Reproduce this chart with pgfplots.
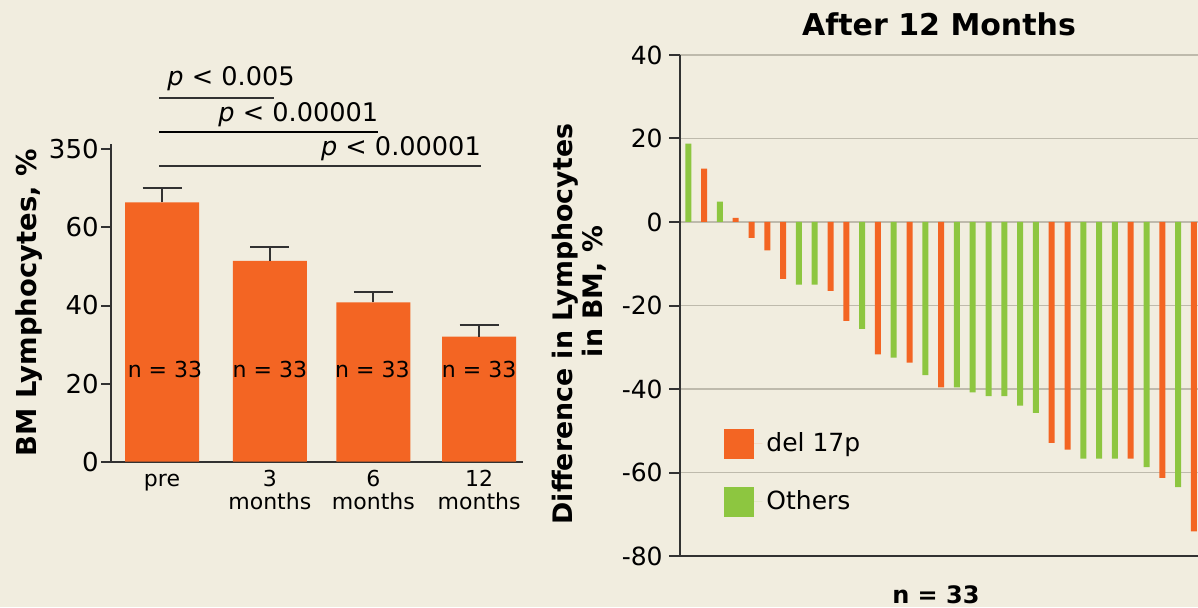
\documentclass[border=0pt]{standalone}
\usepackage{fontspec}
\setmainfont{DejaVu Sans}
\usepackage{pgfplots}
\pgfplotsset{compat=1.18}
\definecolor{bg}{RGB}{241,237,223}
\definecolor{cOrange}{RGB}{243,101,35}
\definecolor{cGreen}{RGB}{141,198,64}
\definecolor{gridgray}{RGB}{190,186,172}
\definecolor{axisgray}{RGB}{50,50,50}
\begin{document}
\begin{tikzpicture}
\fill[bg] (0,0) rectangle (599pt,303.5pt);
% ---------------- Left chart ----------------
\begin{axis}[
  at={(55.5pt,72.65pt)}, anchor=south west,
  scale only axis, width=206pt, height=158.85pt,
  xmin=-0.4825, xmax=3.415, ymin=0, ymax=81.36,
  axis lines=left, axis line style={-, line width=1pt, draw=axisgray},
  ytick={0,20,40,60,80}, yticklabels={0,20,40,60,350},
  xtick={0,1.02,2,3},
  xticklabels={\vphantom{3}pre, 3\\months, 6\\months, 12\\months},
  xtick style={draw=none},
  ytick style={line width=1pt, draw=axisgray},
  tick align=outside, major tick length=5pt,
  yticklabel style={font=\fontsize{13}{15}\selectfont, inner xsep=1pt},
  xticklabel style={font=\fontsize{11}{11.5}\selectfont, align=center, anchor=north, inner ysep=0.5pt, yshift=1.5pt},
  ylabel={BM Lymphocytes, \%},
  ylabel style={font=\fontsize{13.7}{16}\selectfont\bfseries, at={(axis description cs:-0.182,0.5)}, anchor=base},
  clip=false,
]
\addplot[ybar, bar width=37pt, fill=cOrange, draw=none,
  error bars/.cd, y dir=plus, y explicit,
  error bar style={line width=1pt, draw=axisgray},
  error mark options={rotate=90, line width=1pt, draw=axisgray, mark size=9.75pt}]
  coordinates {(0,66.4) +- (0,3.7) (1.02,51.4) +- (0,3.5) (2,40.8) +- (0,2.6) (3,32.0) +- (0,3.0)};
\node[anchor=base, font=\fontsize{11}{13}\selectfont, inner sep=0pt] at (axis cs:0.028,21.5) {n = 33};
\node[anchor=base, font=\fontsize{11}{13}\selectfont, inner sep=0pt] at (axis cs:1.02,21.5) {n = 33};
\node[anchor=base, font=\fontsize{11}{13}\selectfont, inner sep=0pt] at (axis cs:1.99,21.5) {n = 33};
\node[anchor=base, font=\fontsize{11}{13}\selectfont, inner sep=0pt] at (axis cs:3,21.5) {n = 33};
\draw[line width=1pt, axisgray] (axis cs:-0.028,93.2) -- (axis cs:1.06,93.2);
\draw[line width=1pt, black] (axis cs:-0.028,84.4) -- (axis cs:2.04,84.4);
\draw[line width=1pt, axisgray] (axis cs:-0.028,75.8) -- (axis cs:3.02,75.8);
\node[anchor=base west, font=\fontsize{12.8}{15}\selectfont, inner sep=0pt] at (axis cs:0.047,96.4) {\textit{p} < 0.005};
\node[anchor=base east, font=\fontsize{12.8}{15}\selectfont, inner sep=0pt] at (axis cs:2.05,87.1) {\textit{p} < 0.00001};
\node[anchor=base east, font=\fontsize{12.8}{15}\selectfont, inner sep=0pt] at (axis cs:3.02,78.3) {\textit{p} < 0.00001};
\end{axis}
% ---------------- Right chart ----------------
\begin{axis}[
  at={(340pt,25.5pt)}, anchor=south west,
  scale only axis, width=259pt, height=250.5pt,
  xmin=0.475, xmax=33.26, ymin=-80, ymax=40,
  axis lines=left, axis line style={-, line width=1pt, draw=axisgray},
  ytick={-80,-60,-40,-20,0,20,40},
  yticklabels={-80,-60,-40,-20,0,20,40},
  xtick=\empty,
  tick align=outside, major tick length=5.5pt,
  ytick style={line width=1pt, draw=axisgray},
  yticklabel style={font=\fontsize{12.5}{15}\selectfont, inner xsep=3pt},
  ymajorgrids, grid style={line width=0.8pt, draw=gridgray},
  title={After 12 Months},
  title style={font=\fontsize{15}{18}\selectfont\bfseries, at={(axis description cs:0.5,1.014)}, anchor=base},
  xlabel={n = 33},
  xlabel style={font=\fontsize{12}{14}\selectfont\bfseries, at={(axis description cs:0.494,-0.0938)}, anchor=base},
  ylabel={Difference in Lymphocytes\\\hspace*{32.4pt}in BM, \%},
  ylabel style={font=\fontsize{13.4}{15}\selectfont\bfseries, align=center, at={(axis description cs:-0.195,0.463)}, anchor=center},
  legend style={draw=none, fill=none, at={(axis description cs:0.085,0.255)}, anchor=north west,
    font=\fontsize{12.5}{15}\selectfont, row sep=14pt, inner sep=0pt},
  legend cell align=left,
]
\addplot[ybar, bar width=3pt, bar shift=0pt, fill=cOrange, draw=none,
  legend image code/.code={\path (0pt,0pt) -- (19pt,0pt); \fill[cOrange] (0pt,-7.5pt) rectangle (15pt,7.5pt);}]
  coordinates {(2,12.8) (4,1.0) (5,-3.8) (6,-6.8) (7,-13.6) (10,-16.5) (11,-23.7) (13,-31.7)
    (15,-33.7) (17,-39.6) (24,-52.9) (25,-54.5) (29,-56.7) (31,-61.3) (33,-74.1)};
\addlegendentry{del 17p}
\addplot[ybar, bar width=3pt, bar shift=0pt, fill=cGreen, draw=none,
  legend image code/.code={\path (0pt,0pt) -- (19pt,0pt); \fill[cGreen] (0pt,-7.5pt) rectangle (15pt,7.5pt);}]
  coordinates {(1,18.8) (3,4.9) (8,-15.0) (9,-15.0) (12,-25.6) (14,-32.5) (16,-36.7) (18,-39.6)
    (19,-40.8) (20,-41.7) (21,-41.7) (22,-44.0) (23,-45.7) (26,-56.7) (27,-56.7) (28,-56.7)
    (30,-58.7) (32,-63.5)};
\addlegendentry{Others}
\end{axis}
\pgfresetboundingbox
\path[use as bounding box] (0,0) rectangle (599pt,303.5pt);
\end{tikzpicture}
\end{document}
